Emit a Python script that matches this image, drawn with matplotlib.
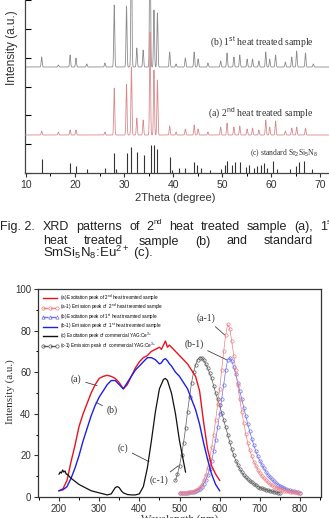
import numpy as np
import matplotlib
matplotlib.use('Agg')
import matplotlib.pyplot as plt
from matplotlib.lines import Line2D
from matplotlib.ticker import MultipleLocator

W, H = 329, 518
SANS = 'Liberation Sans'
SERIF = 'Liberation Serif'
plt.rcParams['font.family'] = SANS
plt.rcParams['mathtext.fontset'] = 'custom'
plt.rcParams['mathtext.rm'] = SANS
plt.rcParams['mathtext.it'] = SANS + ':italic'

# ---- XRD (top panel): peak position (2theta) and height (px-ish units) ----
b_pos = [13.2, 16.6, 19.0, 20.2, 22.4, 26.1, 28.0, 30.5, 31.5, 32.6, 33.9, 35.3, 36.1, 36.8,
         39.3, 40.6, 42.5, 44.3, 45.1, 47.1, 49.7, 51.0, 52.4, 53.6, 55.1, 56.2, 57.5, 58.9,
         59.7, 60.9, 62.9, 64.2, 65.2, 67.0, 68.6]
b_hgt = [10, 2, 12, 9, 3, 4, 62, 61, 150, 19, 17, 160, 57, 54,
         15, 3, 9, 15, 8, 4, 6, 14, 10, 12, 8, 8, 6, 15,
         8, 12, 5, 10, 16, 14, 3]
a_pos = [13.2, 16.6, 19.0, 20.2, 26.1, 28.0, 30.5, 31.5, 32.6, 33.9, 35.3, 36.1, 36.8,
         39.3, 40.6, 42.5, 44.3, 45.1, 47.1, 49.7, 51.0, 52.4, 53.6, 55.1, 56.2, 57.5, 58.9,
         59.7, 60.9, 62.9, 64.2, 65.2, 67.0]
a_hgt = [4, 3, 5, 5, 3, 47, 51, 68, 17, 15, 103, 65, 55,
         9, 3, 6, 10, 6, 3, 8, 12, 8, 9, 6, 7, 5, 15,
         8, 14, 4, 7, 8, 7]
c_pos = [13.2, 18.9, 20.3, 22.4, 26.2, 27.9, 28.3, 30.6, 31.5, 32.6, 34.1, 35.5, 36.1, 36.8,
         39.4, 39.8, 41.2, 42.5, 44.3, 44.9, 45.6, 47.5, 49.7, 50.5, 51.0, 52.1, 52.6, 53.6,
         54.8, 55.4, 56.4, 57.1, 58.0, 58.5, 59.2, 60.4, 61.2, 63.8, 65.0, 65.6, 66.6, 68.3]
c_hgt = [14, 10, 7, 4, 5, 20, 4, 20, 26, 21, 18, 28, 28, 24,
         16, 3, 5, 5, 11, 8, 5, 3, 4, 8, 12, 8, 11, 11,
         6, 8, 5, 7, 8, 10, 5, 12, 4, 4, 7, 11, 12, 4]
base_a, base_b = 38, 106

# ---- PL spectra (bottom panel) ----
ex_wl = [200, 210, 220, 230, 240, 250, 260, 270, 280, 290, 300, 310, 320, 330, 340, 350, 360,
         370, 380, 390, 400, 410, 420, 430, 440, 450, 455, 460, 465, 470, 475, 480,
         490, 500, 510, 520, 530, 540, 550, 560, 570, 580, 590, 600]
ex_a = [3, 4, 8, 17, 25, 34, 40, 45, 50, 54, 57, 58, 58.5, 58, 57, 55, 52,
        54, 58, 62, 65, 67, 68, 70, 71, 72, 71, 73, 75, 72, 73, 72,
        70, 68, 66, 64, 61, 58, 51, 36, 23, 15, 11, 8]
ex_b = [3, 3.5, 5, 9, 14, 20, 27, 33, 39, 44, 48, 51, 54, 56, 56, 54, 52,
        55, 58, 61, 63, 65, 67, 67, 66, 64, 64.5, 66, 66.5, 65.5, 64, 63,
        60, 58, 55, 52, 47, 42, 35, 26, 18, 11, 6, 3]
yag_ex_wl = [200, 203, 206, 209, 212, 215, 218, 220, 230, 240, 250, 260, 270, 280, 290, 300,
             310, 320, 330, 335, 340, 345, 350, 355, 360, 370, 380, 390, 400, 410, 420, 430,
             440, 450, 460, 465, 470, 480, 490, 500, 510, 515]
yag_ex = [11, 12, 11.5, 13, 12, 12.5, 11, 11, 9, 7.5, 6, 5, 4, 3, 2.5, 2,
          1.5, 1, 1.5, 3, 4.5, 5, 4.5, 3, 2, 1.2, 1, 1, 1.5, 5, 14, 27,
          41, 52, 56.5, 57, 56, 50, 40, 27, 17, 12]
yag_em_wl = list(range(490, 751, 5))
yag_em = [8, 11, 15, 20, 26, 33, 41, 48, 55, 60, 63.5, 66, 67, 67, 66, 64, 62, 59.5, 57, 53.5,
          50, 47, 44, 40.5, 37, 33.5, 30, 26.5, 23, 20, 17.5, 15.5, 13.5, 12, 10.5, 9.5, 8.5,
          7.7, 7, 6.3, 5.6, 5, 4.5, 4.1, 3.8, 3.5, 3.2, 3, 2.7, 2.5, 2.3, 2.1, 2]
em_wl = list(range(500, 801, 5))
em_a = [2, 2, 2, 2, 2.2, 2.3, 2.5, 2.8, 3.2, 3.8, 4.8, 6, 8, 10.5, 14, 18.5, 24, 30, 37, 44.5,
        52, 61, 70, 78, 83, 81, 75, 68, 61, 54, 47, 41, 35.5, 30.5, 26, 22.5, 19.5, 17, 15, 13,
        11.5, 10, 9, 8, 7, 6.3, 5.6, 5, 4.5, 4.1, 3.7, 3.4, 3.1, 2.9, 2.7, 2.5, 2.4, 2.3, 2.2,
        2.1, 2]
em_b = [2, 2, 2, 2, 2.1, 2.2, 2.4, 2.6, 3, 3.4, 4, 5, 6.3, 8, 10.5, 13.5, 17.5, 22, 27.5, 33.5,
        40, 47, 54, 61, 66, 67, 65.5, 62.5, 59, 55, 51, 47, 43, 39, 35, 31.5, 28, 25, 22, 19.5,
        17.5, 15.5, 13.8, 12.2, 10.8, 9.6, 8.5, 7.5, 6.7, 6, 5.3, 4.8, 4.3, 3.9, 3.5, 3.2, 2.9,
        2.7, 2.5, 2.3, 2.1]

legend_labels = [
    '(a) Excitation peak of 2$^{\\rm nd}$ heat treamted sample',
    '(a-1) Emission peak of  2$^{\\rm nd}$ heat treamted sample',
    '(b) Excitation peak of 1$^{\\rm st}$ heat treamted sample',
    '(b-1) Emission peak of  1$^{\\rm st}$ heat treamted sample',
    '(c) Excitation peak of commercial YAG:Ce$^{3+}$',
    '(c-1) Emission peak of  commercial YAG:Ce$^{3+}$',
]

# caption words: (text, superscript)
cap_line1 = [('XRD', ''), ('patterns', ''), ('of', ''), ('2', 'nd'), ('heat', ''),
             ('treated', ''), ('sample', ''), ('(a),', ''), ('1', 'st')]
cap_line2 = [('heat', ''), ('treated', ''), ('sample', ''), ('(b)', ''), ('and', ''),
             ('standard', ''), ('Sr', '')]

RED, BLUE, BLACK = '#e8141c', '#1f1fe6', '#111111'
RED_L, BLUE_L, GRAY = '#ec8084', '#7070e8', '#5a5a5a'

fig = plt.figure(figsize=(W / 100, H / 100), dpi=100)
fig.patch.set_facecolor('white')


def px(x0, y_top, x1, y_bot):
    return [x0 / W, 1 - y_bot / H, (x1 - x0) / W, (y_bot - y_top) / H]


def profile(t, pos, hgt, base, s=0.1):
    y = np.full_like(t, float(base))
    for p, h in zip(pos, hgt):
        y += h * np.exp(-0.5 * ((t - p) / s) ** 2)
    return y


# ---------------- top panel ----------------
ax1 = fig.add_axes(px(25, -76, 330, 173))
t = np.linspace(9.8, 72, 5000)
ax1.plot(t, profile(t, b_pos, b_hgt, base_b), color='#8c8c8c', lw=0.6, zorder=2)
ax1.plot(t, profile(t, a_pos, a_hgt, base_a), color='#d98a8e', lw=0.6, zorder=3)
ax1.vlines(c_pos, 0, c_hgt, color='#333333', lw=0.8, zorder=2)
ax1.set_xlim(9.8, 72)
ax1.set_ylim(0, 249)
ax1.set_xticks(range(10, 71, 10))
ax1.xaxis.set_minor_locator(MultipleLocator(5))
ax1.set_yticks(np.arange(0, 249, 28.8))
ax1.set_yticklabels([])
ax1.tick_params(axis='x', which='major', direction='out', length=3, width=0.8,
                labelsize=7.5, pad=2, colors='#333333')
ax1.tick_params(axis='x', which='minor', direction='out', length=2, width=0.7)
ax1.tick_params(axis='y', direction='in', length=4, width=0.8)
for s in ax1.spines.values():
    s.set_linewidth(0.9)
    s.set_color('#444444')
ax1.text(68.6, 131, '(b) 1$^{\\rm st}$ heat treated sample', family=SERIF, fontsize=7,
         ha='right', va='center', color='#333333')
ax1.text(68.6, 60, '(a) 2$^{\\rm nd}$ heat treated sample', family=SERIF, fontsize=7,
         ha='right', va='center', color='#333333')
ax1.text(69.6, 20, '(c) standard Sr$_2$Si$_5$N$_8$', family=SERIF, fontsize=5.5,
         ha='right', va='center', color='#333333')
fig.text(12 / W, 1 - 48 / H, 'Intensity (a.u.)', rotation=90, fontsize=8.5,
         ha='center', va='center', color='#333333')
fig.text(175 / W, 1 - 198 / H, '2Theta (degree)', fontsize=8, ha='center', va='center',
         color='#333333')

# ---------------- caption ----------------
renderer = fig.canvas.get_renderer()
CAP = '#222222'


def justify(words, x0, x1, y, size):
    parts = []
    for base, sup in words:
        tb = fig.text(0, 1 - y / H, base, fontsize=size, va='baseline', color=CAP)
        wb = tb.get_window_extent(renderer).width
        ts, ws = None, 0
        if sup:
            ts = fig.text(0, 1 - (y - 0.42 * size * 1.39) / H, sup, fontsize=size * 0.6,
                          va='baseline', color=CAP)
            ws = ts.get_window_extent(renderer).width
        parts.append((tb, wb, ts, ws))
    total = sum(p[1] + p[3] for p in parts)
    gap = (x1 - x0 - total) / (len(parts) - 1)
    x = x0
    for tb, wb, ts, ws in parts:
        tb.set_x(x / W)
        if ts is not None:
            ts.set_x((x + wb) / W)
        x += wb + ws + gap


fig.text(0, 1 - 229.5 / H, 'Fig. 2.', fontsize=9, va='baseline', color=CAP)
justify(cap_line1, 43, 333, 229.5, 9)
justify(cap_line2, 43, 341, 244.5, 9)
fig.text(43 / W, 1 - 257.5 / H, 'SmSi$_5$N$_8$:Eu$^{2+}$ (c).', fontsize=9.5, va='baseline',
         color=CAP)

# ---------------- bottom panel ----------------
ax2 = fig.add_axes(px(38, 289, 321, 497))
ax2.plot(ex_wl, ex_a, color=RED, lw=1.0, zorder=4)
ax2.plot(ex_wl, ex_b, color=BLUE, lw=1.0, zorder=4)
ax2.plot(yag_ex_wl, yag_ex, color=BLACK, lw=0.9, zorder=4)
ax2.plot(yag_em_wl, yag_em, color=GRAY, lw=0.5, marker='o', ms=2.4, mfc='none', mew=0.5,
         zorder=3)
ax2.plot(em_wl, em_b, color=BLUE_L, lw=0.5, marker='o', ms=2.4, mfc='none', mew=0.5,
         zorder=3)
ax2.plot(em_wl, em_a, color=RED_L, lw=0.5, marker='o', ms=2.4, mfc='none', mew=0.5,
         zorder=3)
ax2.set_xlim(147.7, 852.3)
ax2.set_ylim(0, 100)
ax2.set_xticks(range(200, 801, 100))
ax2.xaxis.set_minor_locator(MultipleLocator(50))
ax2.set_yticks(range(0, 101, 20))
ax2.yaxis.set_minor_locator(MultipleLocator(10))
ax2.tick_params(which='major', direction='out', length=3, width=0.8, labelsize=7, pad=2,
                colors='#333333')
ax2.tick_params(which='minor', direction='out', length=1.8, width=0.7)
for s in ax2.spines.values():
    s.set_linewidth(0.9)
    s.set_color('#333333')

ann = dict(family=SERIF, fontsize=7, color='#333333', ha='center', va='center')
arrow = dict(arrowstyle='-', lw=0.6, color='#444444', shrinkA=1, shrinkB=0)
ax2.annotate('(a)', xy=(295, 53.5), xytext=(243, 56.5), arrowprops=arrow, **ann)
ax2.annotate('(b)', xy=(292, 45.5), xytext=(332, 41.6), arrowprops=arrow, **ann)
ax2.annotate('(c)', xy=(424, 17), xytext=(359, 23.4), arrowprops=arrow, **ann)
ax2.annotate('(c-1)', xy=(497, 15), xytext=(449, 8), arrowprops=arrow, **ann)
ax2.annotate('(a-1)', xy=(612, 78), xytext=(565, 86), arrowprops=arrow, **ann)
ax2.annotate('(b-1)', xy=(617, 66), xytext=(536, 73.5), arrowprops=arrow, **ann)

handles = [
    Line2D([], [], color=RED, lw=1.0),
    Line2D([], [], color=RED_L, lw=1.0, ls='--', marker='o', ms=2.4, mfc='none',
           mew=0.5, markevery=[1]),
    Line2D([], [], color=BLUE_L, lw=1.0, ls='--', marker='^', ms=2.4, mfc='none',
           mew=0.5, markevery=[1]),
    Line2D([], [], color=BLUE, lw=1.0),
    Line2D([], [], color=BLACK, lw=1.0),
    Line2D([], [], color=GRAY, lw=1.0, ls='--', marker='o', ms=2.4, mfc='none',
           mew=0.5, markevery=[1]),
]
ax2.legend(handles, legend_labels, loc='upper left', bbox_to_anchor=(0.0, 1.0),
           frameon=False, fontsize=3.3, handlelength=3.8, handletextpad=0.4,
           labelspacing=-0.1, borderpad=0.5, borderaxespad=0.2, numpoints=3)

fig.text(38 / W + 0.5 * 283 / W, 1 - 514 / H, 'Wavelength (nm)', family=SERIF, fontsize=8,
         ha='center', va='top', color='#333333')
fig.text(10 / W, 1 - 392 / H, 'Intensity (a.u.)', family=SERIF, fontsize=8, rotation=90,
         ha='center', va='center', color='#333333')

fig.savefig('out.png', dpi=100)
